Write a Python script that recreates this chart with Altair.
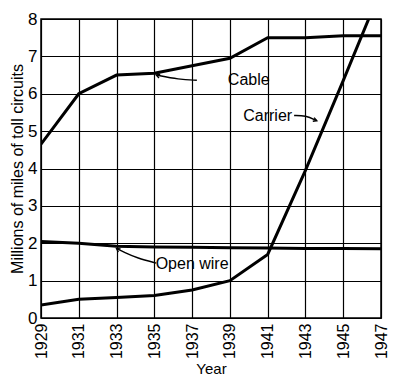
import altair as alt
import pandas as pd

years = [1929, 1931, 1933, 1935, 1937, 1939, 1941, 1943, 1945, 1947]
cable = [4.65, 6.0, 6.5, 6.55, 6.75, 6.95, 7.5, 7.5, 7.55, 7.55]
carrier = [0.35, 0.5, 0.55, 0.6, 0.75, 1.0, 1.7, 3.95, 6.35, 8.8]
open_wire = [2.05, 2.0, 1.92, 1.9, 1.89, 1.88, 1.87, 1.86, 1.86, 1.85]

x_ticks = [1929, 1931, 1933, 1935, 1937, 1939, 1941, 1943, 1945, 1947]
y_ticks = [0, 1, 2, 3, 4, 5, 6, 7, 8]

# annotation labels
label_text = ["Cable", "Carrier", "Open wire"]
label_x = [1940.0, 1941.0, 1937.0]
label_y = [6.36, 5.4, 1.45]

# arrow shafts (curved leader lines)
arrow_id = ["cable", "cable", "cable", "carrier", "carrier", "carrier",
            "open", "open", "open", "open"]
arrow_x = [1937.25, 1936.3, 1935.1, 1942.4, 1943.0, 1943.6,
           1935.1, 1934.1, 1933.4, 1933.0]
arrow_y = [6.36, 6.38, 6.5, 5.42, 5.42, 5.28,
           1.47, 1.6, 1.76, 1.86]
arrow_order = [0, 1, 2, 0, 1, 2, 0, 1, 2, 3]

# arrow heads
head_x = [1935.1, 1943.6, 1933.0]
head_y = [6.5, 5.28, 1.86]
head_angle = [18, 200, 35]

rows = []
for i, yr in enumerate(years):
    rows.append({"year": yr, "value": cable[i], "series": "Cable"})
    rows.append({"year": yr, "value": carrier[i], "series": "Carrier"})
    rows.append({"year": yr, "value": open_wire[i], "series": "Open wire"})
df = pd.DataFrame(rows)

labels = pd.DataFrame({"text": label_text, "x": label_x, "y": label_y})
arrows = pd.DataFrame({"id": arrow_id, "x": arrow_x, "y": arrow_y, "o": arrow_order})
heads = pd.DataFrame({"x": head_x, "y": head_y, "angle": head_angle})

font = "Liberation Sans"

xscale = alt.Scale(domain=[1929, 1947], nice=False, zero=False)
yscale = alt.Scale(domain=[0, 8], nice=False)

xaxis = alt.Axis(values=x_ticks, format="d", labelAngle=270, labelAlign="right",
                 labelBaseline="middle", title="Year", grid=True,
                 gridColor="black", gridWidth=1.2, gridOpacity=1,
                 tickSize=0, labelPadding=5, labelFontSize=16,
                 titleFontSize=15, titleFontWeight="normal",
                 labelColor="black", titleColor="black", domain=False,
                 labelOverlap=False, labelFlush=False,
                 titlePadding=3, labelFont=font, titleFont=font)
yaxis = alt.Axis(values=y_ticks, title="Millions of miles of toll circuits",
                 grid=True, gridColor="black", gridWidth=1.2, gridOpacity=1,
                 tickSize=0, labelPadding=4, labelFontSize=17,
                 titleFontSize=16, titleFontWeight="normal",
                 labelColor="black", titleColor="black", domain=False,
                 labelOverlap=False, labelFlush=False,
                 titlePadding=2, labelFont=font, titleFont=font)

def X(field):
    return alt.X(field, scale=xscale, axis=xaxis)

def Y(field):
    return alt.Y(field, scale=yscale, axis=yaxis)

base_lines = alt.Chart(df).mark_line(color="black", strokeWidth=3, clip=True).encode(
    x=X("year:Q"), y=Y("value:Q"), detail="series:N",
)

text_layer = alt.Chart(labels).mark_text(font=font, fontSize=16, color="black").encode(
    x=X("x:Q"), y=Y("y:Q"), text="text:N"
)

arrow_layer = alt.Chart(arrows).mark_line(color="black", strokeWidth=1.4,
                                          interpolate="basis").encode(
    x=X("x:Q"), y=Y("y:Q"), detail="id:N", order="o:Q"
)

head_layer = alt.Chart(heads).mark_point(
    shape="M 1 -0.55 L 0 0 L 1 0.55", filled=False, stroke="black",
    strokeWidth=1.4, size=50, opacity=1
).encode(
    x=X("x:Q"), y=Y("y:Q"), angle=alt.Angle("angle:Q", scale=None)
)

chart = alt.layer(base_lines, arrow_layer, head_layer, text_layer).properties(
    width=340, height=299,
    autosize=alt.AutoSizeParams(type="none"),
    padding={"left": 33, "top": 11, "right": 10, "bottom": 62},
    background="white",
).configure_view(stroke="black", strokeWidth=1.5)

chart.save("out.html", embed_options={"renderer": "svg", "actions": False})
